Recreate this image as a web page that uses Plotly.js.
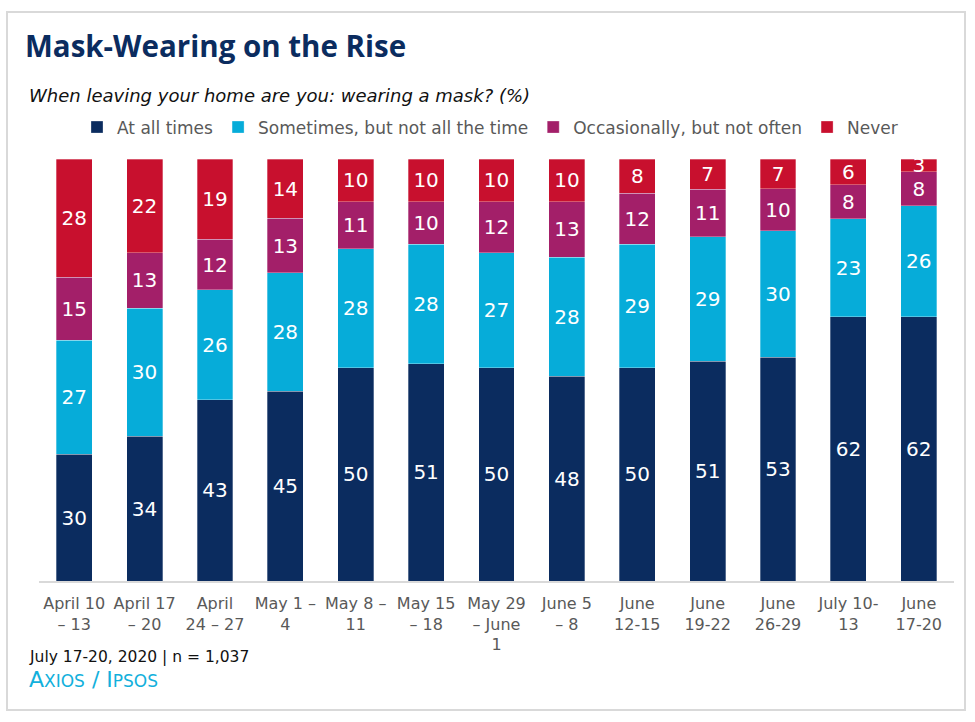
<!DOCTYPE html>
<html>
<head>
<meta charset="utf-8">
<script src="https://cdn.plot.ly/plotly-3.0.1.min.js"></script>
<style>
html,body{margin:0;padding:0;background:#fff;}
#chart{width:975px;height:722px;}
</style>
</head>
<body>
<div id="chart"></div>
<script>
var categories = ["April 10<br>– 13", "April 17<br>– 20", "April<br>24 – 27", "May 1 –<br>4", "May 8 –<br>11", "May 15<br>– 18", "May 29<br>– June<br>1", "June 5<br>– 8", "June<br>12-15", "June<br>19-22", "June<br>26-29", "July 10-<br>13", "June<br>17-20"];
var atAllTimes   = [30, 34, 43, 45, 50, 51, 50, 48, 50, 51, 53, 62, 62];
var sometimes    = [27, 30, 26, 28, 28, 28, 27, 28, 29, 29, 30, 23, 26];
var occasionally = [15, 13, 12, 13, 11, 10, 12, 13, 12, 11, 10, 8, 8];
var never        = [28, 22, 19, 14, 10, 10, 10, 10, 8, 7, 7, 6, 3];
var seriesNames  = ["At all times", "Sometimes, but not all the time", "Occasionally, but not often", "Never"];
var seriesColors = ["#0b2c5f", "#06acd9", "#a31f69", "#c8102e"];

var TFONT = "'Open Sans', 'DejaVu Sans', sans-serif";
var FONT = "'DejaVu Sans', 'Open Sans', sans-serif";
var series = [atAllTimes, sometimes, occasionally, never];
var traces = series.map(function (vals, i) {
  return {
    type: "bar",
    name: seriesNames[i],
    x: categories,
    y: vals,
    text: vals.map(String),
    texttemplate: "%{text}",
    textposition: "inside",
    insidetextanchor: "middle",
    textangle: 0,
    constraintext: "none",
    textfont: {family: FONT, size: 20, color: "#ffffff"},
    marker: {color: seriesColors[i], line: {color: "rgba(255,255,255,0.6)", width: 0.5}},
    hoverinfo: "name+y"
  };
});

// plot area: x 39..954, y 159..581
var L = 39, R = 954, T = 159, B = 581;
function px(x) { return (x - L) / (R - L); }
function py(y) { return (B - y) / (B - T); }

var layout = {
  width: 975, height: 722,
  margin: {l: L, r: 975 - R, t: T, b: 722 - B, pad: 0},
  paper_bgcolor: "#ffffff", plot_bgcolor: "#ffffff",
  barmode: "stack",
  barnorm: "percent",
  bargap: 0.49,
  title: {
    text: "<b>Mask-Wearing on the Rise</b>",
    font: {family: TFONT, size: 29.5, color: "#0b2c5f"},
    xref: "container", yref: "container",
    x: 25 / 975, xanchor: "left",
    y: 1 - 47 / 722, yanchor: "middle"
  },
  xaxis: {
    type: "category",
    showline: true, linecolor: "#d9d9d9", linewidth: 1.5,
    showgrid: false, zeroline: false, ticks: "",
    tickangle: 0,
    ticklabelstandoff: 7,
    tickfont: {family: FONT, size: 16, color: "#595959"},
    fixedrange: true
  },
  yaxis: {
    range: [0, 100], visible: false, showgrid: false, zeroline: false, fixedrange: true
  },
  legend: {
    orientation: "h",
    x: px(490), xanchor: "center",
    y: py(127.5), yanchor: "middle",
    font: {family: FONT, size: 17, color: "#595959"},
    itemwidth: 30,
    traceorder: "normal",
    bgcolor: "rgba(0,0,0,0)"
  },
  showlegend: true,
  annotations: [
    {
      text: "<i>When leaving your home are you: wearing a mask? (%)</i>",
      xref: "paper", yref: "paper", x: px(27), y: py(95),
      xanchor: "left", yanchor: "middle", showarrow: false,
      font: {family: FONT, size: 18, color: "#111111"}
    },
    {
      text: "July 17-20, 2020 | n = 1,037",
      xref: "paper", yref: "paper", x: px(27), y: py(657),
      xanchor: "left", yanchor: "middle", showarrow: false,
      font: {family: FONT, size: 15.5, color: "#111111"}
    },
    {
      text: "A<span style='font-size:17px'>XIOS</span> / I<span style='font-size:17px'>PSOS</span>",
      xref: "paper", yref: "paper", x: px(27), y: py(679),
      xanchor: "left", yanchor: "middle", showarrow: false,
      font: {family: FONT, size: 22, color: "#12b0dc"}
    }
  ],
  shapes: [
    {
      type: "rect", xref: "paper", yref: "paper",
      x0: px(7), x1: px(965), y0: py(710), y1: py(12),
      line: {color: "#d9d9d9", width: 2}, fillcolor: "rgba(0,0,0,0)", layer: "below"
    }
  ]
};

Plotly.newPlot("chart", traces, layout, {displayModeBar: false, staticPlot: true});
</script>
</body>
</html>
